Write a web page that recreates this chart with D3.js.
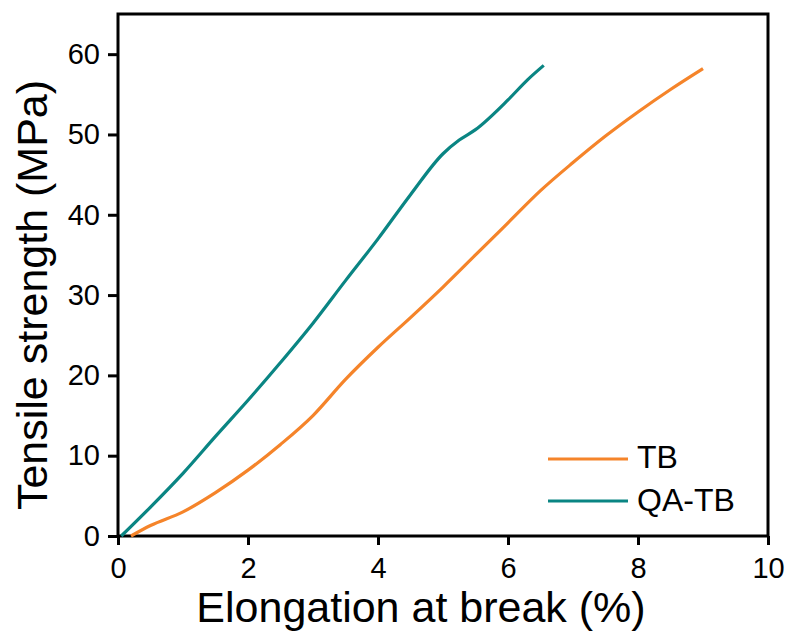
<html>
<head>
<meta charset="utf-8">
<script src="https://cdn.jsdelivr.net/npm/d3@7"></script>
<style>
body { margin: 0; background: #fff; }
.axis text { font-size: 29px; font-family: Arial, "Liberation Sans", sans-serif; fill: #000; }
.axis path, .axis line { stroke: #000; stroke-width: 3; }
.title { font-size: 43px; font-family: Arial, "Liberation Sans", sans-serif; fill: #000; text-anchor: middle; }
.legend text { font-size: 32px; font-family: Arial, "Liberation Sans", sans-serif; fill: #000; }
</style>
</head>
<body>
<div class="target"></div>
<script>
// values: elongation (%) vs tensile strength (MPa)
var seriesNames = ["TB", "QA-TB"];
var seriesColors = ["#f5842a", "#0a8583"];
var tbX = [0.2, 0.5, 1, 1.5, 2, 2.5, 3, 3.5, 4, 4.5, 5, 5.5, 6, 6.5, 7, 7.5, 8, 8.5, 9];
var tbY = [0, 1.3, 3.0, 5.4, 8.2, 11.4, 15.0, 19.5, 23.5, 27.2, 31.0, 35.0, 39.0, 43.0, 46.5, 49.8, 52.8, 55.6, 58.2];
var qaX = [0.05, 0.5, 1, 1.5, 2, 2.5, 3, 3.5, 4, 4.5, 5, 5.25, 5.5, 6, 6.3, 6.55];
var qaY = [0, 3.6, 7.8, 12.4, 16.9, 21.6, 26.5, 31.8, 37.0, 42.5, 47.6, 49.3, 50.6, 54.3, 56.8, 58.6];
var xTicks = [0, 2, 4, 6, 8, 10];
var yTicks = [0, 10, 20, 30, 40, 50, 60];

var margin = {top: 14, right: 23, bottom: 99, left: 118},
  width = 791 - margin.left - margin.right,
  height = 635 - margin.top - margin.bottom;

var svg = d3.select(".target").append("svg")
  .attr("width", 791).attr("height", 635)
  .append("g")
  .attr("transform", "translate(" + margin.left + "," + margin.top + ")");

var x = d3.scaleLinear().domain([0, 10]).range([0, width]);
var y = d3.scaleLinear().domain([0, 65]).range([height, 0]);

// frame
svg.append("rect")
  .attr("width", width).attr("height", height)
  .attr("fill", "none").attr("stroke", "#000").attr("stroke-width", 3);

svg.append("g").attr("class", "x axis")
  .attr("transform", "translate(0," + height + ")")
  .call(d3.axisBottom(x).tickValues(xTicks).tickSize(9).tickSizeOuter(0).tickPadding(12))
  .call(function(g){ g.select(".domain").remove(); });

svg.append("g").attr("class", "y axis")
  .call(d3.axisLeft(y).tickValues(yTicks).tickSize(10).tickSizeOuter(0).tickPadding(8))
  .call(function(g){ g.select(".domain").remove(); });

var line = d3.line()
  .curve(d3.curveMonotoneX)
  .x(function(d){ return x(d[0]); })
  .y(function(d){ return y(d[1]); });

var series = [d3.zip(tbX, tbY), d3.zip(qaX, qaY)];
series.forEach(function(s, i){
  svg.append("path")
    .datum(s)
    .attr("d", line)
    .attr("fill", "none")
    .attr("stroke", seriesColors[i])
    .attr("stroke-width", 3.2)
    .attr("stroke-linejoin", "round");
});

// legend
var legend = svg.append("g").attr("class", "legend")
  .attr("transform", "translate(430,445)");
seriesNames.forEach(function(n, i){
  legend.append("line")
    .attr("x1", 0).attr("x2", 80)
    .attr("y1", i * 42).attr("y2", i * 42)
    .attr("stroke", seriesColors[i]).attr("stroke-width", 3.2);
  legend.append("text")
    .attr("x", 89).attr("y", i * 43 + 9)
    .text(n);
});

svg.append("text").attr("class", "title")
  .attr("x", 303).attr("y", 608)
  .text("Elongation at break (%)");

svg.append("text").attr("class", "title")
  .attr("transform", "rotate(-90)")
  .attr("x", -281).attr("y", -71)
  .text("Tensile strength (MPa)");
</script>
</body>
</html>
